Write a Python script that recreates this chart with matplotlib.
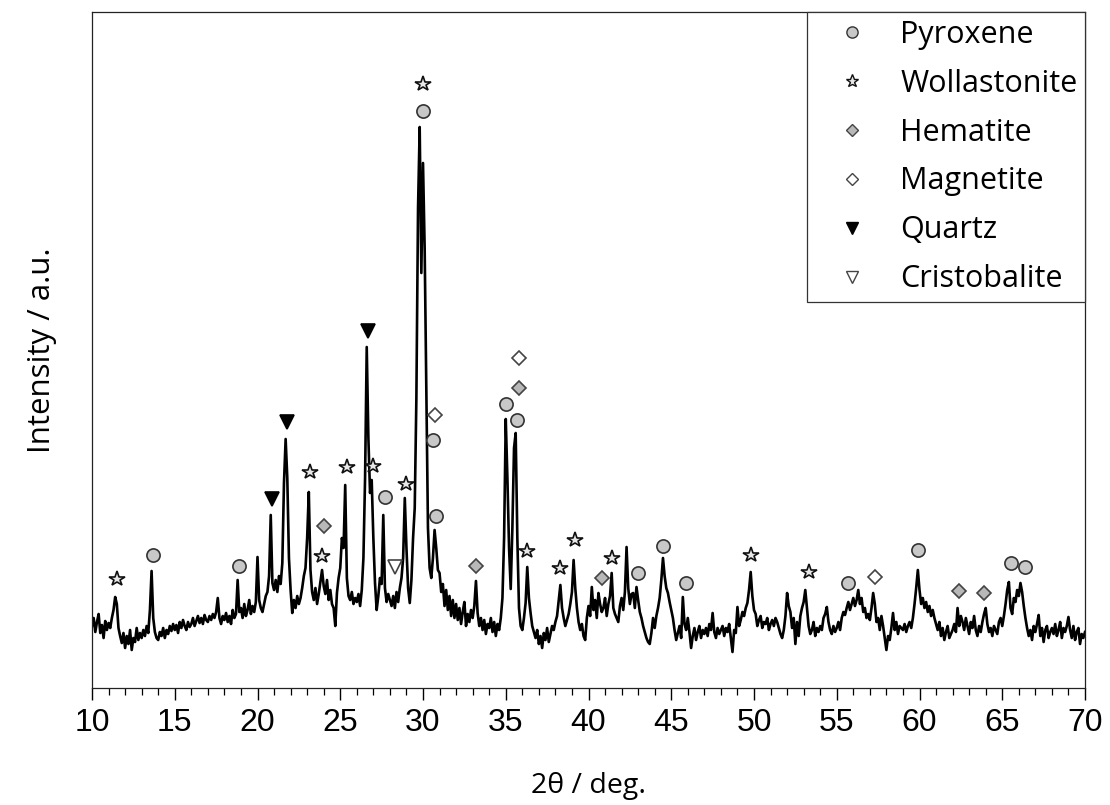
import numpy as np
import matplotlib
matplotlib.use("Agg")
import matplotlib.pyplot as plt
from matplotlib.lines import Line2D
from matplotlib.ticker import MultipleLocator

# ---- data: 2theta grid 10..70 deg, step 0.1 ----
two_theta_start = 10.0
two_theta_step = 0.1
intensity = [
    62, 70, 56, 66, 74, 55, 63, 50, 67, 58,          # 10
    65, 60, 70, 78, 91, 84, 60, 52, 45, 55,          # 11
    40, 52, 44, 58, 38, 50, 46, 60, 48, 55,          # 12
    50, 58, 52, 62, 55, 78, 117, 70, 56, 50,         # 13
    48, 56, 52, 60, 50, 58, 54, 62, 57, 64,          # 14
    58, 63, 55, 66, 60, 68, 62, 58, 66, 61,          # 15
    64, 70, 62, 67, 72, 65, 70, 64, 73, 68,          # 16
    66, 72, 68, 74, 70, 76, 90, 70, 64, 72,          # 17
    68, 75, 66, 72, 64, 78, 70, 74, 108, 76,         # 18
    80, 70, 84, 72, 78, 88, 74, 82, 76, 86,          # 19
    131, 88, 80, 76, 84, 92, 96, 112, 173, 105,      # 20
    98, 108, 96, 112, 104, 125, 205, 249, 210, 130,  # 21
    98, 75, 88, 80, 92, 84, 90, 100, 112, 120,       # 22
    150, 196, 118, 96, 88, 100, 84, 94, 106, 118,    # 23
    102, 94, 108, 88, 98, 84, 80, 62, 95, 110,       # 24
    120, 150, 140, 203, 110, 92, 88, 96, 84, 90,     # 25
    86, 94, 82, 98, 130, 210, 341, 250, 195, 208,    # 26
    150, 105, 78, 92, 110, 104, 173, 100, 86, 94,    # 27
    88, 82, 92, 80, 96, 86, 100, 110, 130, 190,      # 28
    140, 100, 85, 108, 150, 180, 290, 480, 561, 415, # 29
    525, 440, 300, 160, 120, 110, 130, 158, 140, 118,# 30
    115, 96, 104, 82, 98, 78, 92, 72, 88, 70,        # 31
    84, 68, 80, 64, 76, 86, 62, 74, 66, 78,          # 32
    70, 82, 107, 75, 62, 70, 58, 68, 54, 64,         # 33
    60, 70, 56, 66, 52, 64, 58, 70, 90, 150,         # 34
    269, 210, 140, 99, 160, 240, 255, 150, 80, 62,   # 35
    58, 70, 85, 121, 90, 75, 62, 56, 50, 58,         # 36
    44, 52, 40, 55, 48, 60, 46, 54, 62, 58,          # 37
    66, 72, 88, 103, 80, 70, 62, 68, 74, 84,         # 38
    96, 128, 100, 80, 66, 58, 64, 52, 48, 70,        # 39
    82, 72, 101, 78, 88, 70, 95, 84, 76, 80,         # 40
    90, 72, 84, 92, 115, 80, 74, 70, 66, 82,         # 41
    90, 78, 96, 141, 100, 84, 94, 95, 80, 101,       # 42
    88, 76, 70, 62, 56, 50, 46, 44, 55, 70,          # 43
    60, 72, 80, 90, 108, 130, 112, 100, 95, 86,      # 44
    78, 70, 58, 48, 55, 62, 50, 91, 64, 58,          # 45
    70, 56, 40, 52, 60, 48, 56, 62, 50, 58,          # 46
    54, 60, 52, 64, 58, 75, 56, 50, 60, 54,          # 47
    58, 62, 52, 60, 56, 64, 50, 36, 58, 55,          # 48
    81, 62, 68, 76, 72, 80, 85, 98, 116, 92,         # 49
    78, 74, 62, 68, 72, 60, 66, 64, 70, 58,          # 50
    64, 68, 62, 70, 66, 60, 54, 50, 58, 72,          # 51
    95, 82, 76, 60, 70, 44, 66, 52, 72, 80,          # 52
    86, 98, 80, 62, 54, 58, 66, 52, 60, 56,          # 53
    62, 58, 70, 74, 81, 66, 58, 54, 62, 56,          # 54
    60, 66, 58, 70, 76, 73, 80, 86, 78, 84,          # 55
    90, 82, 88, 98, 84, 90, 76, 80, 70, 74,          # 56
    68, 80, 95, 84, 66, 70, 58, 72, 62, 50,          # 57
    38, 52, 48, 60, 75, 58, 66, 54, 62, 60,          # 58
    58, 64, 56, 62, 66, 60, 70, 84, 100, 118,        # 59
    98, 84, 90, 80, 86, 76, 82, 72, 78, 70,          # 60
    64, 58, 66, 52, 60, 48, 56, 62, 50, 54,          # 61
    58, 64, 56, 80, 62, 72, 66, 58, 70, 62,          # 62
    54, 66, 60, 72, 58, 52, 62, 56, 66, 74,          # 63
    80, 64, 56, 60, 52, 62, 58, 54, 66, 70,          # 64
    62, 72, 84, 98, 106, 80, 74, 90, 86, 98,         # 65
    92, 105, 96, 82, 70, 60, 52, 58, 48, 62,         # 66
    56, 64, 73, 52, 60, 46, 58, 62, 50, 56,          # 67
    60, 54, 64, 52, 58, 66, 50, 60, 56, 62,          # 68
    71, 58, 50, 62, 48, 56, 60, 44, 54, 50,          # 69
    56,                                              # 70
]
two_theta = two_theta_start + two_theta_step * np.arange(len(intensity))

# phase marker positions (2theta, height)
pyroxene_x = [13.7, 18.9, 27.7, 30.0, 30.6, 30.8, 35.0, 35.7, 43.0, 44.5, 45.9, 55.7, 59.9, 65.5, 66.4]
pyroxene_y = [133, 122, 191, 577, 248, 172, 284, 268, 115, 142, 105, 105, 138, 125, 121]
wollastonite_x = [11.5, 23.2, 23.9, 25.4, 27.0, 29.0, 30.0, 36.3, 38.3, 39.2, 41.4, 49.8, 53.3]
wollastonite_y = [109, 216, 132, 221, 222, 204, 604, 137, 120, 148, 130, 133, 116]
hematite_x = [24.0, 33.2, 35.8, 40.8, 62.4, 63.9]
hematite_y = [162, 122, 300, 110, 97, 95]
magnetite_x = [30.7, 35.8, 57.3]
magnetite_y = [273, 330, 111]
quartz_x = [20.9, 21.8, 26.7]
quartz_y = [189, 266, 357]
cristobalite_x = [28.3]
cristobalite_y = [121]

phase_names = ["Pyroxene", "Wollastonite", "Hematite", "Magnetite", "Quartz", "Cristobalite"]

fig = plt.figure(figsize=(11.1, 8.05), dpi=100)
ax = fig.add_axes([92 / 1110, 1 - 688 / 805, (1085 - 92) / 1110, (688 - 12) / 805])

ax.plot(two_theta, intensity, color="black", lw=1.9, zorder=2)

ms = 9.5
styles = [
    (pyroxene_x, pyroxene_y, dict(marker="o", mfc="#c8c8c8", mec="#333333", ms=ms)),
    (wollastonite_x, wollastonite_y, dict(marker="*", mfc="#e8e8e8", mec="#111111", ms=ms + 2)),
    (hematite_x, hematite_y, dict(marker="D", mfc="#b8b8b8", mec="#444444", ms=ms - 2.5)),
    (magnetite_x, magnetite_y, dict(marker="D", mfc="white", mec="#444444", ms=ms - 2.5)),
    (quartz_x, quartz_y, dict(marker="v", mfc="black", mec="black", ms=ms)),
    (cristobalite_x, cristobalite_y, dict(marker="v", mfc="white", mec="#444444", ms=ms)),
]
handles = []
for (xs, ys, st), name in zip(styles, phase_names):
    ax.plot(xs, ys, ls="none", mew=1.2, zorder=3, **st)
    hst = dict(st)
    hst["ms"] = st["ms"] * 0.85
    handles.append(Line2D([], [], ls="none", mew=1.0, label=name, **hst))

ax.set_xlim(10, 70)
ax.set_ylim(0, 676)
ax.xaxis.set_major_locator(MultipleLocator(5))
ax.xaxis.set_minor_locator(MultipleLocator(1))
ax.tick_params(axis="x", which="major", direction="out", length=8.6, width=1.0, pad=5.5,
               labelsize=23, top=False)
ax.tick_params(axis="x", which="minor", direction="out", length=5, width=0.9, top=False)
ax.tick_params(axis="y", left=False, labelleft=False)
for lab in ax.get_xticklabels():
    lab.set_fontfamily("Liberation Sans")
for sp in ax.spines.values():
    sp.set_linewidth(0.9)
    sp.set_color("#222222")

ax.set_xlabel("2θ / deg.", fontsize=20.5, family="Open Sans", labelpad=25)
ax.set_ylabel("Intensity / a.u.", fontsize=22.5, family="Open Sans", labelpad=25)

leg = ax.legend(handles=handles, loc="upper right", bbox_to_anchor=(1.0, 1.0),
                borderaxespad=0.0, frameon=True, fancybox=False, framealpha=1,
                edgecolor="#333333", prop={"family": "Open Sans", "size": 22},
                handletextpad=0.35, handlelength=2.44, labelspacing=0.62,
                borderpad=0.25)
leg.get_frame().set_linewidth(0.9)

fig.savefig("out.png", dpi=100)
